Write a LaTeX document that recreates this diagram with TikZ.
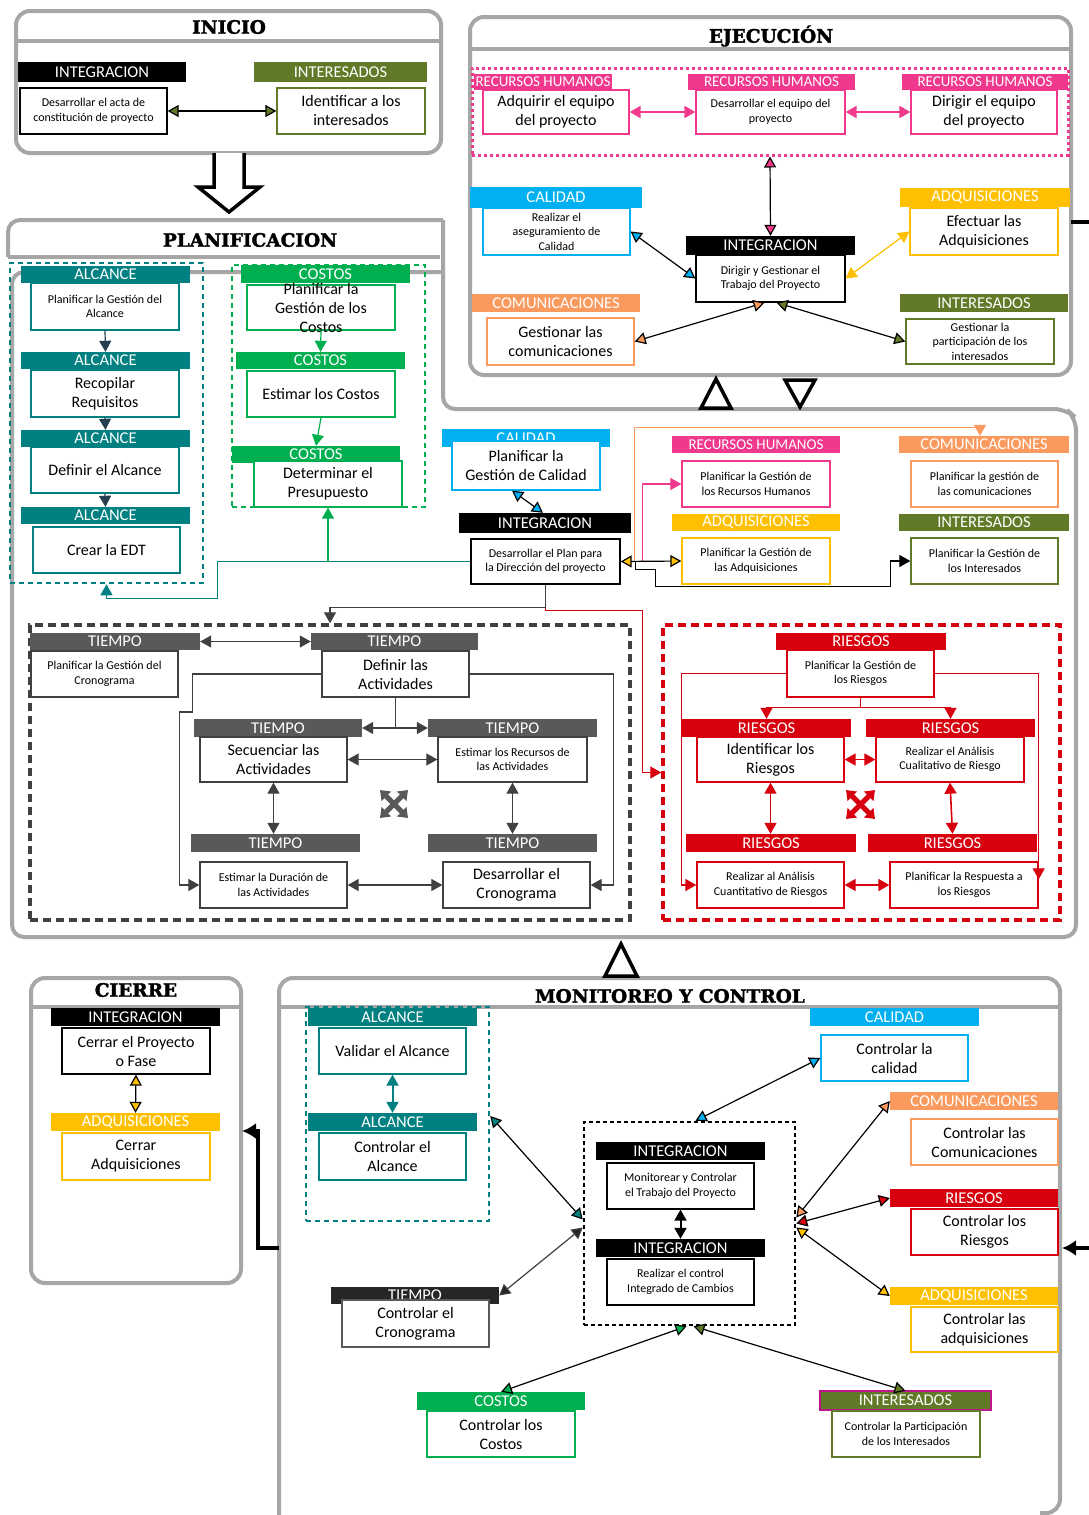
\documentclass[tikz,border=0pt]{standalone}
\usepackage{fontspec}
\setmainfont{Carlito}
\newfontfamily\ttlfam{DejaVu Serif}[BoldFeatures={FakeBold=2}]
\usetikzlibrary{arrows.meta}
\definecolor{cTeal}{HTML}{008080}
\definecolor{cCost}{HTML}{00B050}
\definecolor{cQual}{HTML}{00B0F0}
\definecolor{cRH}{HTML}{F0388C}
\definecolor{cCom}{HTML}{FA9A5E}
\definecolor{cAdq}{HTML}{FFC000}
\definecolor{cInt}{HTML}{617A28}
\definecolor{cTime}{HTML}{595959}
\definecolor{cTimeB}{HTML}{404040}
\definecolor{cTimeD}{HTML}{262626}
\definecolor{cRisk}{HTML}{D8000E}
\definecolor{cPanel}{HTML}{A6A6A6}
\definecolor{cDark}{HTML}{243F4F}
\definecolor{cMag}{HTML}{C0168C}
\newcommand\hdrf{\fontsize{16.5}{17}\selectfont}
\newcommand\rhf{\fontsize{15}{16}\selectfont}
\newcommand\bgt{\fontsize{16}{19}\selectfont}
\newcommand\smt{\fontsize{12}{14.5}\selectfont}
\newcommand\ttlf{\ttlfam\bfseries\fontsize{18.5}{20}\selectfont}
\newcommand\hdrbar[7]{%
  \pgfmathsetmacro\qw{#5-#3}\pgfmathsetmacro\qh{#6-#4}%
  \node[hdr,fill=#2,minimum width=\qw pt,minimum height=\qh pt] (#1) at ({(#3+#5)/2},{(#4+#6)/2}) {#7};}
\newcommand\procbox[8]{%
  \pgfmathsetmacro\qw{#5-#3}\pgfmathsetmacro\qh{#6-#4}%
  \node[pbox,draw=#2,font=#7,minimum width=\qw pt,minimum height=\qh pt] (#1) at ({(#3+#5)/2},{(#4+#6)/2}) {#8};}
\newcommand\contbox[7]{%
  \pgfmathsetmacro\qw{#5-#3}\pgfmathsetmacro\qh{#6-#4}%
  \node[inner sep=0pt,draw=#2,#7,minimum width=\qw pt,minimum height=\qh pt] (#1) at ({(#3+#5)/2},{(#4+#6)/2}) {};}
\begin{document}
\begin{tikzpicture}[x=1pt,y=-1pt,
  hdr/.style={inner sep=0pt,text=white,font=\hdrf},
  pbox/.style={inner sep=0pt,fill=white,line width=1.3pt,align=center},
  panel/.style={draw=cPanel,line width=4pt},
  ttl/.style={font=\ttlf,inner sep=0pt},
  dblA/.style={line width=1.2pt,arrows={Triangle[length=11pt,width=12pt,fill=#1]-Triangle[length=11pt,width=12pt,fill=#1]}},
  oneA/.style={line width=1.2pt,arrows={-Triangle[length=11pt,width=12pt,fill=#1]}},
  hollow/.style={line width=3.5pt,fill=white,line join=miter},
  bigx/.style={line width=5pt,arrows={Triangle[length=9pt,width=13pt]-Triangle[length=9pt,width=13pt]}}]
\useasboundingbox (0,0) rectangle (1089,1515);
\fill[white] (0,0) rectangle (1089,1515);

% ---------- panels ----------
\draw[panel,rounded corners=14pt] (16,11) rectangle (441,153);
\draw[panel] (16,41) -- (441,41);
\draw[panel,rounded corners=14pt] (470,17) rectangle (1071,375);
\draw[panel] (470,49) -- (1071,49);
\draw[panel,rounded corners=12pt] (8,257) -- (8,220) -- (443,220);
\draw[panel] (8,257) -- (440,257);
\draw[panel,rounded corners=12pt] (443,220) -- (443,409) -- (1066,409) -- (1076,418) -- (1076,937) -- (12,937) -- (12,272) -- (443,272);
\draw[panel,rounded corners=14pt] (31,1283) rectangle (241,978);
\draw[panel] (31,1007) -- (241,1007);
\draw[panel,rounded corners=14pt] (279,1520) -- (279,978) -- (1060,978) -- (1060,1513) -- (1040,1513);
\draw[panel] (279,1007) -- (1060,1007);

% ---------- titles ----------
\node[ttl] (tIni) at (229,27) {INICIO};
\node[ttl] (tEje) at (771,36) {EJECUCIÓN};
\node[ttl] (tPla) at (250,240) {PLANIFICACION};
\node[ttl] (tCie) at (136,990) {CIERRE};
\node[ttl] (tMon) at (670,996) {MONITOREO Y CONTROL};

% ---------- containers ----------
\contbox{dRH}{cRH}{472}{68}{1068}{155}{line width=3pt,dash pattern=on 3pt off 3pt}
\contbox{dA}{cTeal}{10}{263}{203}{583}{line width=2.5pt,dash pattern=on 5pt off 4pt}
\contbox{dC}{cCost}{232}{265}{425}{507}{line width=2.5pt,dash pattern=on 5pt off 4pt}
\contbox{dT}{cTimeB}{30}{625}{630}{920}{line width=3.5pt,dash pattern=on 8pt off 5pt}
\contbox{dR}{cRisk}{663}{625}{1060}{920}{line width=3.5pt,dash pattern=on 8pt off 5pt}
\contbox{dMA}{cTeal}{306}{1007}{489}{1221}{line width=2.5pt,dash pattern=on 5pt off 4pt}
\contbox{dMI}{black}{584}{1122}{795}{1325}{line width=2.5pt,dash pattern=on 4pt off 3pt}

% ---------- INICIO ----------
\hdrbar{iH1}{black}{18}{62}{186}{82}{INTEGRACION}
\procbox{iB1}{black}{20}{88}{167}{134}{\smt}{Desarrollar el acta de\\constitución de proyecto}
\hdrbar{iH2}{cInt}{254}{62}{427}{82}{INTERESADOS}
\procbox{iB2}{cInt}{277}{88}{425}{134}{\bgt}{Identificar a los\\interesados}
\draw[dblA=cInt] (iB1.east) -- (iB2.west);
\draw[hollow] (214,153) -- (214,187) -- (198,187) -- (229,212) -- (260,187) -- (244,187) -- (244,153);

% ---------- EJECUCION ----------
\hdrbar{eH1}{cRH}{474}{74}{612}{90}{\rhf RECURSOS HUMANOS}
\procbox{eB1}{cRH}{483}{90}{629}{134}{\bgt}{Adquirir el equipo\\del proyecto}
\hdrbar{eH2}{cRH}{688}{74}{855}{90}{\rhf RECURSOS HUMANOS}
\procbox{eB2}{cRH}{696}{90}{845}{134}{\smt}{Desarrollar el equipo del\\proyecto}
\hdrbar{eH3}{cRH}{902}{74}{1068}{90}{\rhf RECURSOS HUMANOS}
\procbox{eB3}{cRH}{911}{90}{1057}{134}{\bgt}{Dirigir el equipo\\del proyecto}
\hdrbar{eH5}{cQual}{470}{187}{642}{208}{CALIDAD}
\procbox{eB5}{cQual}{483}{208}{630}{255}{\smt}{Realizar el\\aseguramiento de\\Calidad}
\hdrbar{eH6}{cAdq}{900}{188}{1070}{207}{ADQUISICIONES}
\procbox{eB6}{cAdq}{910}{208}{1058}{255}{\bgt}{Efectuar las\\Adquisiciones}
\hdrbar{eH4}{black}{686}{236}{855}{255}{INTEGRACION}
\procbox{eB4}{black}{696}{255}{845}{302}{\smt}{Dirigir y Gestionar el\\Trabajo del Proyecto}
\hdrbar{eH7}{cCom}{472}{294}{640}{312}{COMUNICACIONES}
\procbox{eB7}{cCom}{487}{318}{634}{365}{\bgt}{Gestionar las\\comunicaciones}
\hdrbar{eH8}{cInt}{900}{294}{1068}{312}{INTERESADOS}
\procbox{eB8}{cInt}{906}{319}{1054}{364}{\smt}{Gestionar la\\participación de los\\interesados}
\draw[dblA=cRH,draw=cRH,line width=2pt] (eB1.east) -- (eB2.west);
\draw[dblA=cRH,draw=cRH,line width=2pt] (eB2.east) -- (eB3.west);
\draw[dblA=cRH] (dRH.south) -- (eH4.north);
\draw[dblA=cQual] (eB5.east) -- (eB4.west);
\draw[dblA=cAdq,draw=cAdq] (eB6.west) -- (eB4.east);
\draw[dblA=cCom] ([xshift=-6pt]eB4.south) -- (eB7.east);
\draw[dblA=cInt] ([xshift=6pt]eB4.south) -- (eB8.west);
\coordinate (eOut) at (1089,222);
\draw[line width=3.5pt] (eOut) -- (1071,222);
\draw[hollow] (716,379) -- (731,408) -- (701,408) -- cycle;
\draw[hollow] (800,407) -- (815,380) -- (785,380) -- cycle;

% ---------- PLANIFICACION ----------
\hdrbar{pA1}{cTeal}{21}{266}{190}{283}{ALCANCE}
\procbox{pA1b}{cTeal}{31}{283}{179}{330}{\smt}{Planificar la Gestión del\\Alcance}
\hdrbar{pA2}{cTeal}{21}{352}{190}{369}{ALCANCE}
\procbox{pA2b}{cTeal}{31}{370}{179}{417}{\bgt}{Recopilar\\Requisitos}
\hdrbar{pA3}{cTeal}{21}{430}{190}{447}{ALCANCE}
\procbox{pA3b}{cTeal}{31}{447}{179}{493}{\bgt}{Definir el Alcance}
\hdrbar{pA4}{cTeal}{21}{507}{190}{524}{ALCANCE}
\procbox{pA4b}{cTeal}{33}{527}{180}{573}{\bgt}{Crear la EDT}
\draw[oneA=cDark,draw=cDark] (pA1b.south) -- (pA2.north);
\draw[oneA=cDark,draw=cDark] (pA2b.south) -- (pA3.north);
\draw[oneA=cDark,draw=cDark] (pA3b.south) -- (pA4.north);

\hdrbar{pC1}{cCost}{241}{265}{410}{283}{COSTOS}
\procbox{pC1b}{cCost}{247}{285}{395}{330}{\bgt}{}
\node[align=center,font=\bgt,inner sep=0pt] (pC1t) at (pC1b) {Planificar la\\Gestión de los\\Costos};
\hdrbar{pC2}{cCost}{236}{352}{405}{369}{COSTOS}
\procbox{pC2b}{cCost}{247}{371}{395}{417}{\bgt}{Estimar los Costos}
\hdrbar{pC3}{cCost}{232}{446}{400}{463}{COSTOS}
\procbox{pC3b}{cCost}{254}{461}{402}{507}{\bgt}{Determinar el\\Presupuesto}
\draw[oneA=cCost,draw=cCost] (pC1b.south) -- (pC2.north);
\draw[oneA=cCost,draw=cCost] (pC2b.south) -- (pC3.north);

\hdrbar{pQ}{cQual}{442}{429}{610}{447}{CALIDAD}
\procbox{pQb}{cQual}{452}{441}{600}{490}{\bgt}{Planificar la\\Gestión de Calidad}
\hdrbar{pI}{black}{459}{513}{631}{533}{INTEGRACION}
\procbox{pIb}{black}{471}{539}{620}{584}{\smt}{Desarrollar el Plan para\\la Dirección del proyecto}
\hdrbar{pR}{cRH}{672}{436}{840}{453}{\rhf RECURSOS HUMANOS}
\procbox{pRb}{cRH}{682}{461}{830}{507}{\smt}{Planificar la Gestión de\\los Recursos Humanos}
\hdrbar{pCo}{cCom}{899}{436}{1069}{453}{COMUNICACIONES}
\procbox{pCob}{cCom}{911}{461}{1058}{507}{\smt}{Planificar la gestión de\\las comunicaciones}
\hdrbar{pAd}{cAdq}{672}{514}{840}{531}{ADQUISICIONES}
\procbox{pAdb}{cAdq}{682}{538}{830}{584}{\smt}{Planificar la Gestión de\\las Adquisiciones}
\hdrbar{pIn}{cInt}{899}{514}{1069}{531}{INTERESADOS}
\procbox{pInb}{cInt}{911}{538}{1058}{584}{\smt}{Planificar la Gestión de\\los Interesados}

\draw[dblA=cQual] ([xshift=-14pt]pQb.south) -- ([xshift=-2pt]pI.north);
\draw[oneA=cCom,draw=cCom] (pIb.east) -- ++(14,0) |- ([xshift=-4pt,yshift=8pt]pCo.north) -- ([xshift=-4pt]pCo.north);
\draw[oneA=cRH,draw=cRH] ([xshift=22pt]pIb.east) |- (pRb.west);
\draw[oneA=black] (pIb.east) -- ++(15,0) -- ++(0,8) -- ++(20,0) -- ++(0,17) -| ([xshift=-20pt]pInb.west) -- (pInb.west);
\draw[dblA=cAdq] (pIb.east) -- (pAdb.west);
\draw[oneA=cTeal,draw=cTeal] (pIb.west) -- ++(-253,0) |- ([yshift=-14pt]dA.south) -- (dA.south);
\draw[oneA=cCost,draw=cCost] (pIb.west -| pC3b.south) -- (pC3b.south);
\draw[oneA=cTimeB,draw=cTimeB] (pIb.south) -- ++(0,23) -| (dT.north);
\draw[oneA=cRisk,draw=cRisk] ([yshift=-23pt]pIb.south) -- ++(0,3) -| ([xshift=-19pt]dR.west) -- (dR.west);

% ---------- TIEMPO ----------
\hdrbar{tH1}{cTime}{30}{633}{200}{650}{TIEMPO}
\procbox{tB1}{cTimeB}{31}{651}{178}{697}{\smt}{Planificar la Gestión del\\Cronograma}
\hdrbar{tH2}{cTime}{311}{633}{478}{650}{TIEMPO}
\procbox{tB2}{cTimeB}{322}{651}{469}{697}{\bgt}{Definir las\\Actividades}
\hdrbar{tH3}{cTime}{194}{719}{362}{737}{TIEMPO}
\procbox{tB3}{cTimeB}{200}{737}{347}{782}{\bgt}{Secuenciar las\\Actividades}
\hdrbar{tH4}{cTime}{428}{719}{597}{737}{TIEMPO}
\procbox{tB4}{cTimeB}{438}{737}{587}{782}{\smt}{Estimar los Recursos de\\las Actividades}
\hdrbar{tH5}{cTime}{191}{834}{360}{852}{TIEMPO}
\procbox{tB5}{cTimeB}{200}{862}{347}{908}{\smt}{Estimar la Duración de\\las Actividades}
\hdrbar{tH6}{cTime}{428}{834}{597}{852}{TIEMPO}
\procbox{tB6}{cTimeB}{443}{862}{590}{908}{\bgt}{Desarrollar el\\Cronograma}
\draw[dblA=cTimeB,draw=cTimeB] (tH1.east) -- (tH2.west);
\draw[oneA=cTimeB,draw=cTimeB] (tB2.south) |- (tH3.east);
\draw[oneA=cTimeB,draw=cTimeB] (tB2.south) |- (tH4.west);
\draw[dblA=cTimeB,draw=cTimeB] (tB3.east) -- (tB4.west);
\draw[dblA=cTimeB,draw=cTimeB] (tB3.south) -- (tB3.south |- tH5.north);
\draw[dblA=cTimeB,draw=cTimeB] (tB4.south) -- (tB4.south |- tH6.north);
\draw[dblA=cTimeB,draw=cTimeB] (tB5.east) -- (tB6.west);
\draw[oneA=cTimeB,draw=cTimeB] (tB2.west) -- ++(-129,0) -- ++(0,38) -- ++(-13,0) |- (tB5.west);
\draw[oneA=cTimeB,draw=cTimeB] (tB2.east) -| ([xshift=23pt]tB6.east) -- (tB6.east);
\draw[cTime,bigx] (380,790) -- (408,818);
\draw[cTime,bigx] (408,790) -- (380,818);

% ---------- RIESGOS ----------
\hdrbar{rH1}{cRisk}{776}{633}{946}{650}{RIESGOS}
\procbox{rB1}{cRisk}{787}{650}{934}{697}{\smt}{Planificar la Gestión de\\los Riesgos}
\hdrbar{rH2}{cRisk}{682}{719}{851}{737}{RIESGOS}
\procbox{rB2}{cRisk}{697}{737}{844}{782}{\bgt}{Identificar los\\Riesgos}
\hdrbar{rH3}{cRisk}{866}{719}{1035}{737}{RIESGOS}
\procbox{rB3}{cRisk}{876}{737}{1024}{782}{\smt}{Realizar el Análisis\\Cualitativo de Riesgo}
\hdrbar{rH4}{cRisk}{686}{834}{856}{852}{RIESGOS}
\procbox{rB4}{cRisk}{697}{862}{844}{908}{\smt}{Realizar al Análisis\\Cuantitativo de Riesgos}
\hdrbar{rH5}{cRisk}{868}{834}{1037}{852}{RIESGOS}
\procbox{rB5}{cRisk}{890}{862}{1038}{908}{\smt}{Planificar la Respuesta a\\los Riesgos}
\draw[oneA=cRisk,draw=cRisk] (rB1.south) -- ++(0,10) -| (rH2.north);
\draw[oneA=cRisk,draw=cRisk] (rB1.south) -- ++(0,10) -| (rH3.north);
\draw[oneA=cRisk,draw=cRisk] (rB1.west) -| ([xshift=-15pt]rB4.west) -- (rB4.west);
\draw[oneA=cRisk,draw=cRisk] (rB1.east) -| ([yshift=-18pt]rB5.north east);
\draw[dblA=cRisk,draw=cRisk,line width=1.6pt] (rB2.east) -- (rB3.west);
\draw[dblA=cRisk,draw=cRisk,line width=1.6pt] (rB2.south) -- (rB2.south |- rH4.north);
\draw[dblA=cRisk,draw=cRisk,line width=1.6pt] (rB3.south) -- (rH5.north);
\draw[dblA=cRisk,draw=cRisk,line width=1.6pt] (rB4.east) -- (rB5.west);
\draw[cRisk,bigx] (846,790) -- (875,819);
\draw[cRisk,bigx] (875,790) -- (846,819);

\draw[hollow] (621,944) -- (637,976) -- (605,976) -- cycle;

% ---------- CIERRE ----------
\hdrbar{cH1}{black}{51}{1008}{220}{1026}{INTEGRACION}
\procbox{cB1}{black}{62}{1028}{210}{1074}{\bgt}{Cerrar el Proyecto\\o Fase}
\hdrbar{cH2}{cAdq}{51}{1113}{220}{1131}{ADQUISICIONES}
\procbox{cB2}{cAdq}{62}{1133}{210}{1180}{\bgt}{Cerrar\\Adquisiciones}
\draw[dblA=cAdq] (cB1.south) -- (cH2.north);
\coordinate (mLeft) at (279,1248);
\coordinate (cieIn) at (242,1131);
\draw[line width=3.5pt,arrows={-Latex[length=14pt,width=16pt]}] (mLeft) -- (258,1248) -- (258,1131) -- (cieIn);

% ---------- MONITOREO ----------
\hdrbar{mA1}{cTeal}{308}{1008}{477}{1026}{ALCANCE}
\procbox{mA1b}{cTeal}{319}{1028}{466}{1074}{\bgt}{Validar el Alcance}
\hdrbar{mA2}{cTeal}{308}{1113}{477}{1131}{ALCANCE}
\procbox{mA2b}{cTeal}{319}{1133}{466}{1180}{\bgt}{Controlar el\\Alcance}
\draw[dblA=cTeal,draw=cTeal,line width=2pt] (mA1b.south) -- (mA2.north);
\hdrbar{mI1}{black}{596}{1142}{765}{1160}{INTEGRACION}
\procbox{mI1b}{black}{607}{1163}{754}{1209}{\smt}{Monitorear y Controlar\\el Trabajo del Proyecto}
\hdrbar{mI2}{black}{596}{1239}{765}{1257}{INTEGRACION}
\procbox{mI2b}{black}{607}{1259}{754}{1305}{\smt}{Realizar el control\\Integrado de Cambios}
\draw[dblA=black,line width=2pt] (mI1b.south) -- (mI2.north);
\hdrbar{mT}{cTimeD}{331}{1287}{499}{1304}{TIEMPO}
\procbox{mTb}{cTime}{342}{1300}{489}{1347}{\bgt}{Controlar el\\Cronograma}
\hdrbar{mQ}{cQual}{810}{1008}{979}{1026}{CALIDAD}
\procbox{mQb}{cQual}{821}{1035}{968}{1081}{\bgt}{Controlar la\\calidad}
\hdrbar{mC}{cCom}{890}{1092}{1058}{1110}{COMUNICACIONES}
\procbox{mCb}{cCom}{911}{1119}{1058}{1165}{\bgt}{Controlar las\\Comunicaciones}
\hdrbar{mR}{cRisk}{890}{1189}{1058}{1207}{RIESGOS}
\procbox{mRb}{cRisk}{911}{1209}{1058}{1255}{\bgt}{Controlar los\\Riesgos}
\hdrbar{mAd}{cAdq}{890}{1287}{1058}{1305}{ADQUISICIONES}
\procbox{mAdb}{cAdq}{911}{1307}{1058}{1352}{\bgt}{Controlar las\\adquisiciones}
\hdrbar{mCo}{cCost}{417}{1392}{585}{1410}{COSTOS}
\procbox{mCob}{cCost}{427}{1411}{575}{1457}{\bgt}{Controlar los\\Costos}
\hdrbar{mIn}{cInt}{820}{1391}{991}{1410}{INTERESADOS}
\draw[cMag,line width=1.5pt] (mIn.north west) rectangle (mIn.south east);
\procbox{mInb}{cInt}{832}{1411}{980}{1457}{\smt}{Controlar la Participación\\de los Interesados}

\draw[dblA=cTeal] ([yshift=-2pt]dMA.east) -- ([yshift=4pt]dMI.west);
\draw[dblA=cTimeD,draw=cTimeB] (mT.east) -- ([yshift=-4pt]dMI.west);
\draw[dblA=cQual] ([xshift=6pt]dMI.north) -- (mQb.west);
\draw[dblA=cCom] ([yshift=6pt]dMI.east) -- (mC.west);
\draw[dblA=cRisk] (dMI.east) -- (mR.west);
\draw[dblA=cAdq] ([yshift=-4pt]dMI.east) -- (mAd.west);
\draw[dblA=cCost] ([xshift=-3pt]dMI.south) -- (mCo.north);
\draw[dblA=cInt] ([xshift=4pt]dMI.south) -- (mIn.north);
\coordinate (mRightIn) at (1089,1248);
\draw[line width=3.5pt,arrows={-Latex[length=14pt,width=16pt]}] (mRightIn) -- (1062,1248);
\end{tikzpicture}
\end{document}
